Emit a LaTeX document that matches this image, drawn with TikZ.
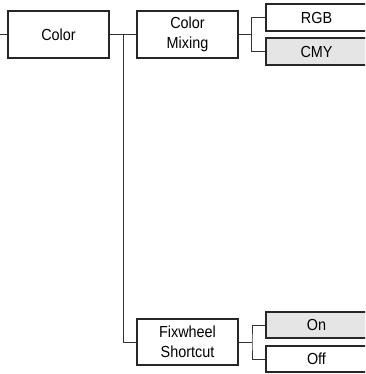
\documentclass[tikz,border=0pt]{standalone}
\usepackage{fontspec}
\setmainfont{Liberation Sans}[FakeStretch=0.9]
\begin{document}
\begin{tikzpicture}[x=1pt,y=-1pt,
  box/.style={draw=black!85,line width=1.1pt,inner sep=0pt,font=\fontsize{16}{20.5}\selectfont,align=center},
  wire/.style={draw=black!80,line width=1pt}]
\useasboundingbox (0,0) rectangle (365,374);
\clip (0,0) rectangle (365,374);
\node[box,minimum width=101pt,minimum height=47pt] (color) at (58.5,34.5) {Color};
\node[box,minimum width=101pt,minimum height=47pt] (mix) at (187.5,34.5) {Color\\Mixing};
\node[box,minimum width=101pt,minimum height=27pt] (rgb) at (316.5,17.5) {RGB};
\node[box,fill=black!10,minimum width=101pt,minimum height=27pt] (cmy) at (316.5,51.5) {CMY};
\node[box,minimum width=101pt,minimum height=46pt] (fix) at (187.5,342) {Fixwheel\\Shortcut};
\node[box,fill=black!10,minimum width=101pt,minimum height=26pt] (on) at (316.5,325) {On};
\node[box,minimum width=101pt,minimum height=26pt] (off) at (316.5,359) {Off};
\coordinate (in) at (0,34.5);
\draw[wire] (in) -- (color.west);
\draw[wire] (color.east) -- (mix.west);
\draw[wire] (123,34.5) |- (fix.west);
\draw[wire] (mix.east) -- (251.5,34.5);
\draw[wire] (rgb.west) -| (251.5,34.5) |- (cmy.west);
\draw[wire] (fix.east) -- (252,342);
\draw[wire] (on.west) -| (252,342) |- (off.west);
\end{tikzpicture}
\end{document}
